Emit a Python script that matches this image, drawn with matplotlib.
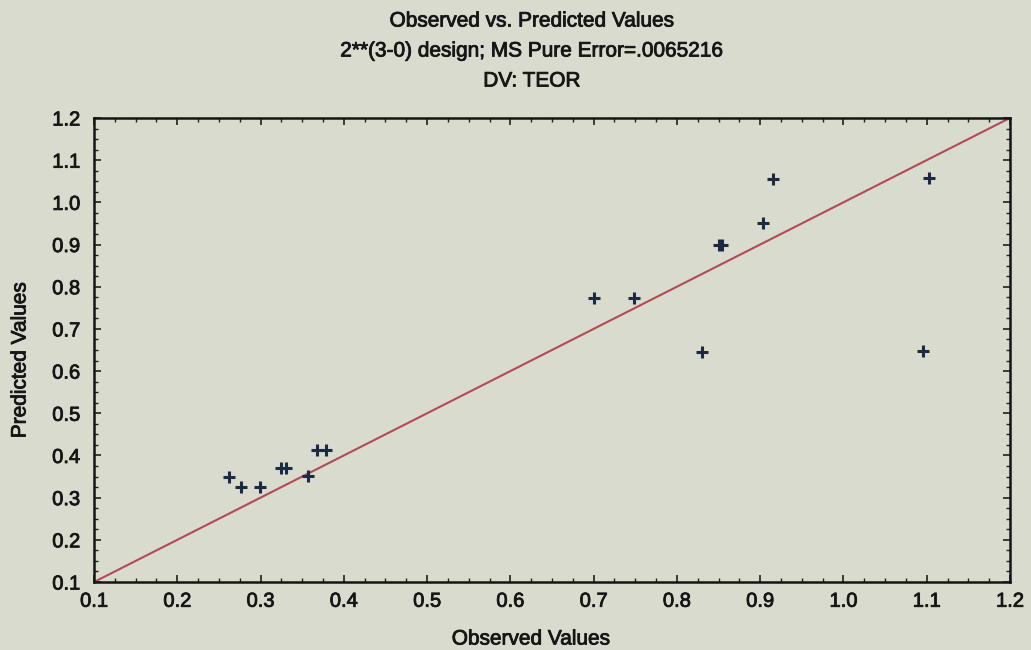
import matplotlib
matplotlib.use("Agg")
import matplotlib.pyplot as plt
import matplotlib.patheffects as pe
from matplotlib.ticker import AutoMinorLocator

# Observed response and model predictions for each run
observed = [0.262, 0.276, 0.299, 0.325, 0.331, 0.357, 0.368, 0.378,
            0.701, 0.749, 0.830, 0.850, 0.854, 0.904, 0.916, 1.095, 1.103]
predicted = [0.350, 0.326, 0.326, 0.370, 0.370, 0.351, 0.414, 0.414,
             0.774, 0.774, 0.645, 0.900, 0.900, 0.951, 1.055, 0.648, 1.058]

axis_min, axis_max = 0.1, 1.2
tick_values = [0.1, 0.2, 0.3, 0.4, 0.5, 0.6, 0.7, 0.8, 0.9, 1.0, 1.1, 1.2]
tick_labels = ["0.1", "0.2", "0.3", "0.4", "0.5", "0.6", "0.7", "0.8",
               "0.9", "1.0", "1.1", "1.2"]

title_lines = ["Observed vs. Predicted Values",
               "2**(3-0) design; MS Pure Error=.0065216",
               "DV: TEOR"]

bg = "#d9dbcf"
ink = "#161616"
heavy = [pe.withStroke(linewidth=0.6, foreground=ink)]
plt.rcParams["font.family"] = ["Liberation Sans", "DejaVu Sans"]

fig = plt.figure(figsize=(10.31, 6.5), dpi=100, facecolor=bg)
ax = fig.add_axes([0.0912, 0.1046, 0.8884, 0.7139], facecolor=bg)

# identity reference line
ax.plot([axis_min, axis_max], [axis_min, axis_max], color="#b34a55",
        linewidth=1.5, zorder=2)
ax.plot(observed, predicted, linestyle="none", marker="+", markersize=9,
        markeredgewidth=2.2, color="#1d2942", zorder=3)

ax.set_xlim(axis_min, axis_max)
ax.set_ylim(axis_min, axis_max)
ax.set_xticks(tick_values)
ax.set_xticklabels(tick_labels)
ax.set_yticks(tick_values)
ax.set_yticklabels(tick_labels)
ax.xaxis.set_minor_locator(AutoMinorLocator(4))
ax.yaxis.set_minor_locator(AutoMinorLocator(4))
ax.tick_params(which="both", direction="in", top=True, right=True,
               colors="#202020", labelsize=14.5, labelcolor=ink)
ax.tick_params(axis="x", which="major", pad=7)
ax.tick_params(axis="y", which="major", pad=10)
ax.tick_params(which="major", length=5, width=1.2)
ax.tick_params(which="minor", length=3, width=1.0)
for lab in ax.get_xticklabels() + ax.get_yticklabels():
    lab.set_path_effects(heavy)
for s in ax.spines.values():
    s.set_linewidth(1.8)
    s.set_color("#151515")

for i, line in enumerate(title_lines):
    fig.text(0.516, 1 - (21 + 30 * i) / 650, line, ha="center", va="center",
             fontsize=15, color=ink, path_effects=heavy)

fig.text(531 / 1031, 1 - 639 / 650, "Observed Values", ha="center",
         va="center", fontsize=15, color=ink, path_effects=heavy)
fig.text(20 / 1031, 1 - 360 / 650, "Predicted Values", ha="center",
         va="center", rotation=90, fontsize=15, color=ink, path_effects=heavy)

fig.savefig("out.png", dpi=100, facecolor=bg)
